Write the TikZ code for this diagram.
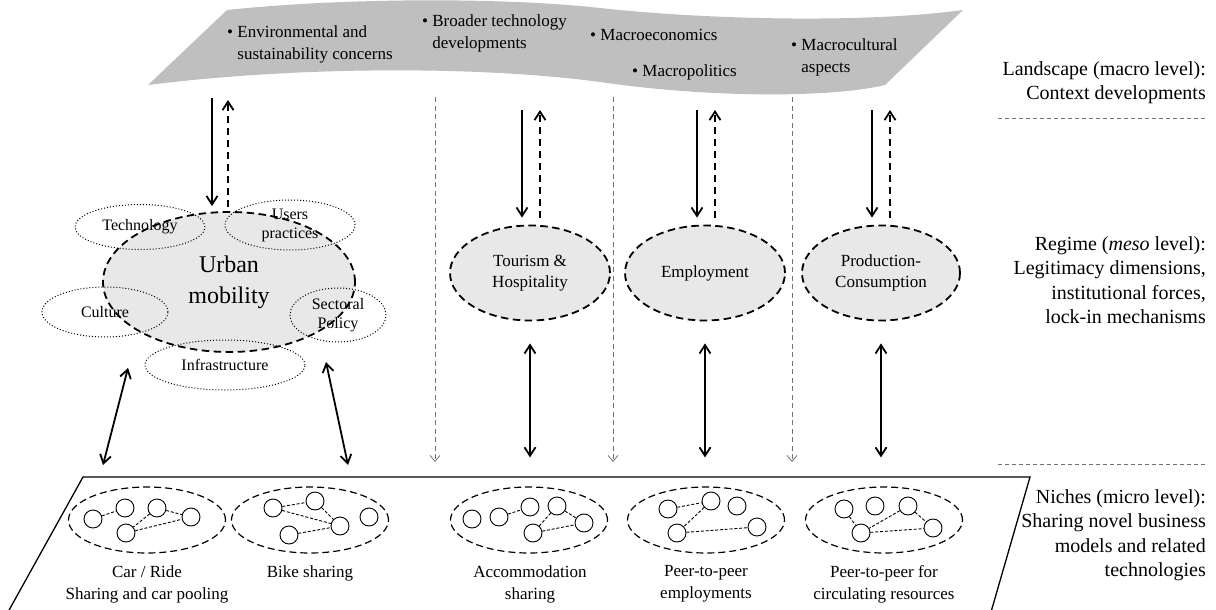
\documentclass[tikz,border=0pt]{standalone}
\usepackage{fontspec}
\setmainfont{Liberation Serif}
\usetikzlibrary{shapes.geometric,arrows.meta,calc}

\definecolor{bandgray}{gray}{0.75}
\definecolor{regimegray}{gray}{0.91}
\definecolor{sepgray}{gray}{0.45}

\tikzset{
  bandtext/.style={anchor=north west, align=left, inner sep=0pt, font=\fontsize{17}{21.5}\selectfont},
  sidetext/.style={anchor=north east, align=right, inner sep=0pt, font=\fontsize{20}{24.5}\selectfont},
  regime/.style={ellipse, draw, fill=regimegray, line width=1.8pt, dash pattern=on 7.5pt off 4.5pt,
    inner sep=0pt, align=center, font=\fontsize{17}{21.5}\selectfont},
  facet/.style={ellipse, draw, dotted, line width=1pt, inner sep=0pt, align=center,
    font=\fontsize{16}{19}\selectfont},
  niche/.style={ellipse, draw, fill=white, line width=1.2pt, dash pattern=on 7pt off 4pt,
    minimum width=157pt, minimum height=66pt},
  actor/.style={circle, draw, line width=0.9pt, minimum size=18pt, inner sep=0pt},
  link/.style={line width=0.9pt, dash pattern=on 3pt off 1.8pt},
  nichetext/.style={anchor=north, align=center, inner sep=0pt, font=\fontsize{17}{22.5}\selectfont},
  barb/.style={-{Straight Barb[length=8.5pt,width=11pt,line width=1.8pt]}},
  downarrow/.style={line width=1.8pt, barb},
  uparrow/.style={line width=1.8pt, dash pattern=on 7pt off 5pt, barb},
  twoway/.style={line width=1.8pt,
    {Straight Barb[length=8.5pt,width=11pt,line width=1.8pt]}-{Straight Barb[length=8.5pt,width=11pt,line width=1.8pt]}},
  separator/.style={draw=sepgray, line width=0.9pt, dash pattern=on 5pt off 3.5pt,
    -{Straight Barb[length=6pt,width=10pt,line width=0.8pt]}},
  levelrule/.style={draw=sepgray, line width=0.9pt, dash pattern=on 4pt off 3pt},
  platform/.style={line width=1.3pt},
}

\begin{document}
\begin{tikzpicture}[x=1pt,y=-1pt]
\useasboundingbox (0,0) rectangle (1216,610);

% landscape band
\fill[bandgray] (148,85) -- (227,10)
  .. controls (340,-2) and (500,-3) .. (600,8)
  .. controls (700,19) and (860,24) .. (963,10)
  -- (885,85)
  .. controls (830,98) and (710,98) .. (600,82)
  .. controls (480,66) and (300,66) .. (148,85) -- cycle;

\node[bandtext] (env) at (227,26) {\textbullet\ Environmental and\\\hphantom{\textbullet\ }sustainability concerns};
\node[bandtext] (tech) at (422,15) {\textbullet\ Broader technology\\\hphantom{\textbullet\ }developments};
\node[bandtext] (econ) at (590,29) {\textbullet\ Macroeconomics};
\node[bandtext] (poli) at (632,65) {\textbullet\ Macropolitics};
\node[bandtext] (cult) at (791,39) {\textbullet\ Macrocultural\\\hphantom{\textbullet\ }aspects};

% level captions on the right
\node[sidetext] (landscape) at (1206,61) {Landscape (macro level):\\Context developments};
\node[sidetext] (regimecap) at (1206,236) {Regime (\textit{meso} level):\\Legitimacy dimensions,\\institutional forces,\\lock-in mechanisms};
\node[sidetext] (nichecap) at (1206,489) {Niches (micro level):\\Sharing novel business\\models and related\\technologies};
\coordinate (r1a) at (998,118); \coordinate (r1b) at (1207,118);
\coordinate (r2a) at (998,464); \coordinate (r2b) at (1207,464);
\draw[levelrule] (r1a) -- (r1b);
\draw[levelrule] (r2a) -- (r2b);

% column separators
\coordinate (s1a) at (435,97);  \coordinate (s1b) at (435,462);
\coordinate (s2a) at (613,97);  \coordinate (s2b) at (613,462);
\coordinate (s3a) at (792,97);  \coordinate (s3b) at (792,462);
\draw[separator] (s1a) -- (s1b);
\draw[separator] (s2a) -- (s2b);
\draw[separator] (s3a) -- (s3b);

% regimes
\node[regime, minimum width=252pt, minimum height=140pt, font=\fontsize{24}{31}\selectfont] (urban) at (229,282) {Urban\\mobility};
\node[facet, minimum width=130pt, minimum height=45pt] (ftech) at (140,227) {Technology};
\node[facet, minimum width=130pt, minimum height=50pt] (fusers) at (290,225) {Users\\practices};
\node[facet, minimum width=126pt, minimum height=50pt] (fcult) at (105,312) {Culture};
\node[facet, minimum width=96pt, minimum height=54pt] (fpol) at (338,315) {Sectoral\\Policy};
\node[facet, minimum width=160pt, minimum height=50pt] (finfra) at (225,365) {Infrastructure};

\node[regime, minimum width=160pt, minimum height=95pt] (tour) at (530,273) {Tourism \&\\Hospitality};
\node[regime, minimum width=160pt, minimum height=95pt] (emp) at (705,273) {Employment};
\node[regime, minimum width=158pt, minimum height=95pt] (prod) at (881,273) {Production-\\Consumption};

% landscape <-> regime pressures
\coordinate (d1) at (212,98);  \coordinate (u1) at (228,100);
\coordinate (d2) at (522,110); \coordinate (u2) at (540,110);
\coordinate (d3) at (697,110); \coordinate (u3) at (715,110);
\coordinate (d4) at (872,110); \coordinate (u4) at (890,110);
\draw[downarrow, shorten >=5pt] (d1) -- (d1 |- urban.north);
\draw[uparrow, shorten <=4pt] (u1 |- urban.north) -- (u1);
\draw[downarrow, shorten >=7pt] (d2) -- (d2 |- tour.north);
\draw[uparrow, shorten <=7pt] (u2 |- tour.north) -- (u2);
\draw[downarrow, shorten >=7pt] (d3) -- (d3 |- emp.north);
\draw[uparrow, shorten <=7pt] (u3 |- emp.north) -- (u3);
\draw[downarrow, shorten >=7pt] (d4) -- (d4 |- prod.north);
\draw[uparrow, shorten <=7pt] (u4 |- prod.north) -- (u4);

% niche platform
\coordinate (pl1) at (8,612); \coordinate (pl2) at (83,477);
\coordinate (pl3) at (1030,477); \coordinate (pl4) at (991,612);
\draw[platform] (pl1) -- (pl2) -- (pl3) -- (pl4);

\node[niche] (car) at (147,520) {};
\node[niche] (bike) at (310,520) {};
\node[niche] (acc) at (529,520) {};
\node[niche] (peer) at (706,520) {};
\node[niche] (circ) at (884,520) {};

% regime <-> niche interactions
\coordinate (ua) at (128,368); \coordinate (la) at (103,465);
\coordinate (ub) at (326,362); \coordinate (lb) at (348,465);
\draw[twoway] (ua) -- (la);
\draw[twoway] (ub) -- (lb);
\draw[twoway, shorten <=22pt, shorten >=29pt] (tour.south) -- (tour.south |- acc.north);
\draw[twoway, shorten <=22pt, shorten >=29pt] (emp.south) -- (emp.south |- peer.north);
\draw[twoway, shorten <=22pt, shorten >=29pt] (prod.south) -- (prod.south |- circ.north);

% actor networks inside the niches
\node[actor] (c1) at (93,519) {};
\node[actor] (c2) at (125,508) {};
\node[actor] (c3) at (157,508) {};
\node[actor] (c4) at (191,517) {};
\node[actor] (c5) at (126,533) {};
\draw[link] (c1) -- (c2);
\draw[link] (c3) -- (c4);
\draw[link] (c3) -- (c5);
\draw[link] (c5) -- (c4);

\node[actor] (b1) at (273,508) {};
\node[actor] (b2) at (315,501) {};
\node[actor] (b3) at (340,526) {};
\node[actor] (b4) at (289,535) {};
\node[actor] (b5) at (369,517) {};
\draw[link] (b1) -- (b2);
\draw[link] (b1) -- (b3);
\draw[link] (b2) -- (b3);
\draw[link] (b4) -- (b3);

\node[actor] (a1) at (472,519) {};
\node[actor] (a2) at (499,517) {};
\node[actor] (a3) at (530,507) {};
\node[actor] (a4) at (557,506) {};
\node[actor] (a5) at (584,523) {};
\node[actor] (a6) at (533,533) {};
\draw[link] (a2) -- (a3);
\draw[link] (a4) -- (a5);
\draw[link] (a4) -- (a6);
\draw[link] (a6) -- (a5);

\node[actor] (p1) at (668,509) {};
\node[actor] (p2) at (711,501) {};
\node[actor] (p3) at (737,506) {};
\node[actor] (p4) at (677,533) {};
\node[actor] (p5) at (757,527) {};
\draw[link] (p1) -- (p2);
\draw[link] (p2) -- (p4);
\draw[link] (p4) -- (p5);

\node[actor] (q1) at (844,509) {};
\node[actor] (q2) at (875,506) {};
\node[actor] (q3) at (908,506) {};
\node[actor] (q4) at (933,528) {};
\node[actor] (q5) at (861,533) {};
\draw[link] (q1) -- (q5);
\draw[link] (q3) -- (q4);
\draw[link] (q3) -- (q5);
\draw[link] (q5) -- (q4);

% niche captions
\node[nichetext] (carcap) at (147,565) {Car / Ride\\Sharing and car pooling};
\node[nichetext] (bikecap) at (310,565) {Bike sharing};
\node[nichetext] (acccap) at (530,565) {Accommodation\\sharing};
\node[nichetext] (peercap) at (706,565) {Peer-to-peer\\employments};
\node[nichetext] (circcap) at (884,565) {Peer-to-peer for\\circulating resources};
\end{tikzpicture}
\end{document}
